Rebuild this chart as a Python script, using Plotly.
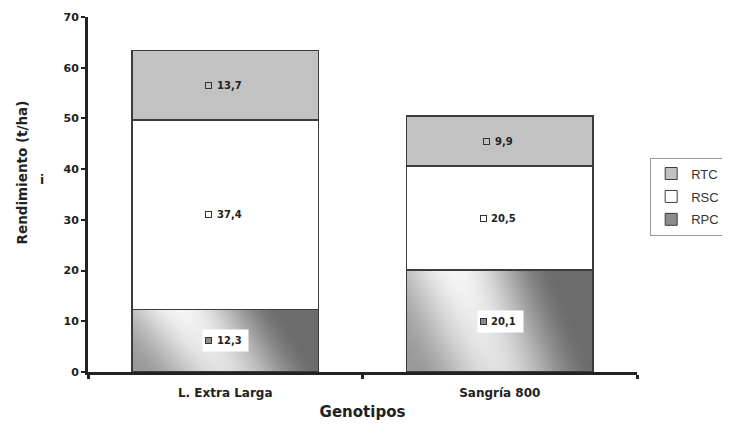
import base64
import math
import struct
import zlib

import plotly.graph_objects as go

# ---------------- data ----------------
categories = ["L. Extra Larga", "Sangría 800"]
rpc = [12.3, 20.1]
rsc = [37.4, 20.5]
rtc = [13.7, 9.9]
series_names = ["RPC", "RSC", "RTC"]
y_ticks = [0, 10, 20, 30, 40, 50, 60, 70]

# ---------------- style ----------------
BOLD = "DejaVu Sans, sans-serif"
LEG = "Liberation Sans, Arial, sans-serif"
EDGE = "#3c3c3c"
RTC_FILL = "#c2c2c2"
RSC_FILL = "#ffffff"
RPC_KEY = "#8c8c8c"
BAR_W = 0.68


def gradient_png(w=160, h=90):
    rows = []
    for j in range(h):
        v = j / (h - 1)
        row = bytearray([0])
        peak = 246 - 22 * v
        for i in range(w):
            u = i / (w - 1)
            s = u - 0.26 - 0.22 * v
            if s < 0:
                t = min(1.0, -s / 0.45)
                lo = 165 - 12 * v
            else:
                t = min(1.0, s / 0.55)
                lo = 108
            t = 0.5 - 0.5 * math.cos(math.pi * t)
            g = peak - (peak - lo) * t
            row.append(int(g))
        rows.append(bytes(row))
    raw = b"".join(rows)

    def chunk(t, d):
        return struct.pack(">I", len(d)) + t + d + struct.pack(">I", zlib.crc32(t + d) & 0xFFFFFFFF)

    png = b"\x89PNG\r\n\x1a\n"
    png += chunk(b"IHDR", struct.pack(">IIBBBBB", w, h, 8, 0, 0, 0, 0))
    png += chunk(b"IDAT", zlib.compress(raw, 9))
    png += chunk(b"IEND", b"")
    return "data:image/png;base64," + base64.b64encode(png).decode()


GRAD = gradient_png()
xpos = list(range(len(categories)))

fig = go.Figure()
fills = {"RPC": "rgba(0,0,0,0)", "RSC": RSC_FILL, "RTC": RTC_FILL}
values = {"RPC": rpc, "RSC": rsc, "RTC": rtc}
for name in series_names:
    fig.add_trace(go.Bar(
        x=xpos, y=values[name], name=name, width=BAR_W,
        marker=dict(color=fills[name], line=dict(color=EDGE, width=1.5)),
        showlegend=False, hoverinfo="skip",
    ))

# legend-only entries (top to bottom as in reference)
keys = {"RTC": RTC_FILL, "RSC": RSC_FILL, "RPC": RPC_KEY}
for name in ["RTC", "RSC", "RPC"]:
    fig.add_trace(go.Bar(
        x=[None], y=[None], name=name, legendgroup=name,
        marker=dict(color=keys[name], line=dict(color=EDGE, width=1)),
        showlegend=True,
    ))

# gradient images for RPC segments
for i in xpos:
    fig.add_layout_image(dict(
        source=GRAD, xref="x", yref="y",
        x=i - BAR_W / 2, y=rpc[i], sizex=BAR_W, sizey=rpc[i],
        xanchor="left", yanchor="top", sizing="stretch", layer="below",
    ))


def fmt(v):
    return f"{v:.1f}".replace(".", ",")


# data labels
for i in xpos:
    bases = {"RPC": 0, "RSC": rpc[i], "RTC": rpc[i] + rsc[i]}
    for name in series_names:
        v = values[name][i]
        ymid = bases[name] + v / 2
        txt = fmt(v)
        tw = sum(3.8 if c == "," else 7.0 for c in txt)
        if name == "RPC":
            fig.add_annotation(x=i, y=ymid, xref="x", yref="y", text="\u00a0",
                               showarrow=False, width=45, height=21, borderpad=0,
                               bgcolor="white", xshift=0.5,
                               font=dict(size=2))
        fig.add_annotation(x=i, y=ymid, xref="x", yref="y", text=txt,
                           showarrow=False, xshift=4,
                           font=dict(family=BOLD, size=10, color="#222", weight="bold"))
        fig.add_annotation(x=i, y=ymid, xref="x", yref="y", text="\u00a0",
                           showarrow=False, width=5, height=5, borderpad=0,
                           borderwidth=1, bordercolor="#333",
                           bgcolor=keys[name], xshift=4 - tw / 2 - 8,
                           font=dict(size=2))

# y-axis title (placed like the reference, above centre) and stray "i"
fig.add_annotation(x=-0.121, y=0.561, xref="paper", yref="paper",
                   xanchor="center", yanchor="middle",
                   text="Rendimiento (t/ha)", textangle=-90, showarrow=False,
                   font=dict(family=BOLD, size=13.5, color="#222", weight="bold"))
fig.add_annotation(x=-0.084, y=0.541, xref="paper", yref="paper",
                   xanchor="center", yanchor="middle", text="i",
                   showarrow=False,
                   font=dict(family=BOLD, size=12, color="#222", weight="bold"))

fig.update_layout(
    width=714, height=413,
    margin=dict(l=80, r=85, t=9, b=49, autoexpand=False),
    paper_bgcolor="white", plot_bgcolor="white",
    barmode="stack",
    font=dict(family=BOLD, color="#222"),
    legend=dict(
        x=1.024, y=0.604, xanchor="left", yanchor="top",
        traceorder="grouped", tracegroupgap=3,
        bordercolor="#999", borderwidth=1,
        font=dict(family=LEG, size=13, color="#333"),
        bgcolor="white", itemclick=False,
    ),
    xaxis=dict(
        range=[-0.5, 1.5], tickvals=xpos, ticktext=categories,
        ticks="", showgrid=False, zeroline=False,
        showline=True, linecolor="#222", linewidth=3,
        ticklabelstandoff=8,
        tickfont=dict(family=BOLD, size=12, color="#222", weight="bold"),
        minor=dict(tickvals=[-0.5, 0.5, 1.5], ticks="outside", ticklen=4,
                   tickwidth=3, tickcolor="#222", showgrid=False),
        title=dict(text="Genotipos", standoff=15,
                   font=dict(family=BOLD, size=15, color="#222", weight="bold")),
    ),
    yaxis=dict(
        range=[0, 70], tickvals=y_ticks, ticks="outside", ticklen=4,
        tickwidth=2, tickcolor="#222", showgrid=False, zeroline=False,
        showline=True, linecolor="#222", linewidth=3,
        tickfont=dict(family=BOLD, size=11, color="#222", weight="bold"),
    ),
)

fig.write_html("out.html")
